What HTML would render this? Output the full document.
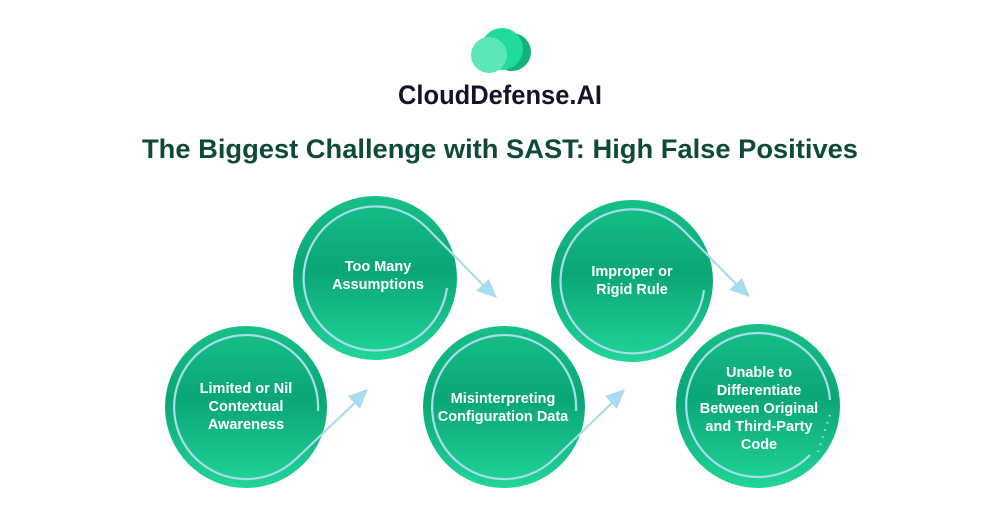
<!DOCTYPE html>
<html><head><meta charset="utf-8"><style>
html,body{margin:0;padding:0;background:#fff;}
svg{display:block;font-family:"Liberation Sans",sans-serif;}
</style></head><body>
<svg width="1000" height="515" viewBox="0 0 1000 515" xmlns="http://www.w3.org/2000/svg">
<defs>
<linearGradient id="g" x1="0" y1="0" x2="0" y2="1">
<stop offset="0" stop-color="#17c088"/>
<stop offset="0.45" stop-color="#0aa676"/>
<stop offset="1" stop-color="#22d597"/>
</linearGradient>
</defs>
<!-- logo -->
<circle cx="512" cy="52" r="19" fill="#12b37a"/>
<circle cx="502" cy="49" r="21" fill="#1fdc9c"/>
<circle cx="489" cy="55" r="18" fill="#5de6b9"/>
<text x="500" y="104" text-anchor="middle" font-size="27" font-weight="bold" fill="#17112e" textLength="204" lengthAdjust="spacingAndGlyphs">CloudDefense.AI</text>
<text x="500" y="158" text-anchor="middle" font-size="27" font-weight="bold" fill="#0e4a36" textLength="716" lengthAdjust="spacingAndGlyphs">The Biggest Challenge with SAST: High False Positives</text>

<g fill="url(#g)">
<circle cx="246" cy="407" r="81"/>
<circle cx="375" cy="278" r="82"/>
<circle cx="504" cy="407" r="81"/>
<circle cx="632" cy="281" r="81"/>
<circle cx="758" cy="406" r="82"/>
</g>

<g fill="none" stroke="#a9dcef" stroke-width="2.2">
<path d="M318 411 A72 72 0 1 0 297 458 L360 398"/>
<path d="M447 288 A72 72 0 1 1 426 227 L488 290"/>
<path d="M576 411 A72 72 0 1 0 555 458 L617 398"/>
<path d="M704 290 A72 72 0 1 1 683 230 L742 290"/>
<path d="M830 400 A72 72 0 1 0 810 455"/>
<path d="M830 415 L818 452" stroke-dasharray="1.5 6"/>
</g>
<g fill="#a9dcef">
<polygon points="368,389 348,396 360,409"/>
<polygon points="497,298 476,291 489,279"/>
<polygon points="625,389 605,396 617,409"/>
<polygon points="750,297 729,290 742,278"/>
</g>

<g fill="#fff" font-size="14.5" font-weight="bold" text-anchor="middle">
<text x="246" y="393">Limited or Nil</text>
<text x="246" y="411">Contextual</text>
<text x="246" y="429">Awareness</text>
<text x="378" y="271">Too Many</text>
<text x="378" y="289">Assumptions</text>
<text x="503" y="403">Misinterpreting</text>
<text x="503" y="421">Configuration Data</text>
<text x="632" y="276">Improper or</text>
<text x="632" y="294">Rigid Rule</text>
<text x="759" y="377">Unable to</text>
<text x="759" y="395">Differentiate</text>
<text x="759" y="413">Between Original</text>
<text x="759" y="431">and Third-Party</text>
<text x="759" y="449">Code</text>
</g>
</svg>
</body></html>
